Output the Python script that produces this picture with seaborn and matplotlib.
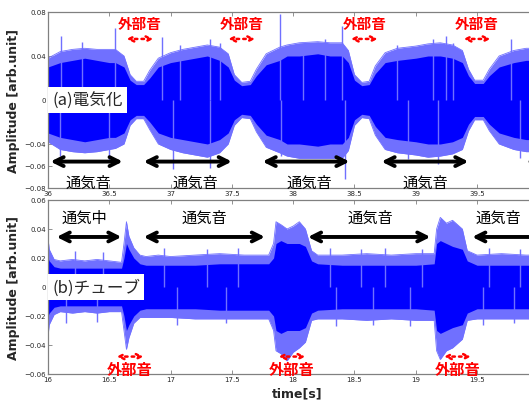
import matplotlib
matplotlib.use("Agg")
import matplotlib.pyplot as plt
import numpy as np
import pandas as pd
import seaborn as sns

# ---- panel (a) 電気化: envelope (time [s], amplitude) ----
t_a = [36.00, 36.10, 36.20, 36.30, 36.40, 36.50, 36.55, 36.62, 36.67, 36.72,
       36.78, 36.83, 36.90, 37.00, 37.10, 37.20, 37.30, 37.40, 37.47, 37.52,
       37.58, 37.65, 37.70, 37.78, 37.89, 37.95, 38.05, 38.20, 38.30, 38.40,
       38.45, 38.50, 38.56, 38.62, 38.67, 38.75, 38.85, 39.00, 39.10, 39.20,
       39.30, 39.38, 39.43, 39.48, 39.55, 39.60, 39.68, 39.80, 39.90, 40.00]
core_a = [0.030, 0.034, 0.036, 0.038, 0.036, 0.034, 0.034, 0.030, 0.018, 0.014,
          0.014, 0.020, 0.030, 0.034, 0.036, 0.038, 0.040, 0.036, 0.030, 0.018,
          0.013, 0.014, 0.022, 0.032, 0.036, 0.040, 0.040, 0.042, 0.040, 0.040,
          0.034, 0.018, 0.013, 0.014, 0.024, 0.034, 0.036, 0.038, 0.040, 0.040,
          0.038, 0.034, 0.022, 0.015, 0.015, 0.022, 0.030, 0.034, 0.036, 0.036]
peak_hi_a = [0.038, 0.044, 0.046, 0.047, 0.046, 0.046, 0.046, 0.040, 0.023, 0.017,
             0.017, 0.027, 0.038, 0.043, 0.046, 0.048, 0.050, 0.048, 0.042, 0.023,
             0.016, 0.017, 0.028, 0.042, 0.048, 0.050, 0.052, 0.053, 0.052, 0.052,
             0.045, 0.023, 0.016, 0.017, 0.031, 0.043, 0.047, 0.049, 0.051, 0.052,
             0.050, 0.045, 0.028, 0.018, 0.018, 0.028, 0.040, 0.045, 0.047, 0.047]
peak_lo_a = [0.038, 0.045, 0.047, 0.048, 0.047, 0.045, 0.044, 0.040, 0.023, 0.017,
             0.017, 0.027, 0.040, 0.045, 0.048, 0.050, 0.052, 0.048, 0.040, 0.023,
             0.016, 0.017, 0.029, 0.043, 0.048, 0.051, 0.053, 0.053, 0.053, 0.053,
             0.046, 0.023, 0.016, 0.017, 0.032, 0.045, 0.048, 0.050, 0.052, 0.051,
             0.049, 0.045, 0.028, 0.018, 0.018, 0.028, 0.040, 0.045, 0.047, 0.047]
# tallest single spikes in (a)
spike_t_a = [36.11, 36.28, 36.55, 36.93, 37.08, 37.32, 37.40, 37.89, 38.08,
             38.26, 38.40, 38.85, 39.14, 39.25, 39.30, 39.78]
spike_hi_a = [0.058, 0.053, 0.065, 0.057, 0.050, 0.055, 0.052, 0.078, 0.050,
              0.055, 0.067, 0.050, 0.055, 0.058, 0.052, 0.055]
spike_lt_a = [36.10, 36.50, 37.02, 37.32, 37.90, 38.42, 38.94, 39.18, 39.85]
spike_lo_a = [0.051, 0.056, 0.063, 0.062, 0.051, 0.072, 0.054, 0.058, 0.053]

# ---- panel (b) チューブ ----
t_b = [16.00, 16.01, 16.05, 16.10, 16.20, 16.30, 16.40, 16.50, 16.60, 16.62,
       16.64, 16.66, 16.70, 16.75, 16.80, 16.90, 17.00, 17.20, 17.40, 17.60,
       17.80, 17.84, 17.86, 17.90, 17.95, 18.00, 18.05, 18.10, 18.15, 18.20,
       18.40, 18.60, 18.80, 19.00, 19.15, 19.17, 19.20, 19.25, 19.30, 19.38,
       19.42, 19.50, 19.70, 19.90, 20.00]
core_b = [0.020, 0.018, 0.014, 0.013, 0.013, 0.013, 0.013, 0.013, 0.013, 0.020,
          0.030, 0.026, 0.020, 0.016, 0.015, 0.015, 0.015, 0.015, 0.016, 0.016,
          0.016, 0.020, 0.030, 0.032, 0.030, 0.030, 0.030, 0.028, 0.018, 0.016,
          0.015, 0.015, 0.015, 0.015, 0.016, 0.030, 0.032, 0.030, 0.028, 0.026,
          0.018, 0.015, 0.015, 0.015, 0.015]
peak_hi_b = [0.034, 0.026, 0.019, 0.018, 0.019, 0.018, 0.019, 0.018, 0.017, 0.030,
             0.045, 0.035, 0.027, 0.022, 0.021, 0.022, 0.021, 0.022, 0.023, 0.022,
             0.022, 0.030, 0.045, 0.043, 0.040, 0.042, 0.045, 0.040, 0.025, 0.022,
             0.022, 0.023, 0.022, 0.023, 0.023, 0.040, 0.048, 0.044, 0.046, 0.040,
             0.025, 0.022, 0.023, 0.022, 0.022]
peak_lo_b = [0.034, 0.026, 0.019, 0.017, 0.018, 0.017, 0.018, 0.017, 0.017, 0.030,
             0.043, 0.035, 0.025, 0.021, 0.021, 0.021, 0.021, 0.022, 0.022, 0.022,
             0.022, 0.030, 0.044, 0.046, 0.051, 0.045, 0.042, 0.038, 0.023, 0.022,
             0.022, 0.023, 0.022, 0.023, 0.023, 0.044, 0.050, 0.044, 0.042, 0.036,
             0.023, 0.022, 0.022, 0.022, 0.022]
spike_t_b = [16.22, 16.45, 16.95, 17.30, 17.55, 18.30, 18.55, 18.75, 19.05, 19.60, 19.85]
spike_hi_b = [0.025, 0.024, 0.027, 0.026, 0.027, 0.027, 0.026, 0.027, 0.026, 0.027, 0.026]
spike_lt_b = [16.15, 16.40, 17.05, 17.45, 18.35, 18.65, 18.95, 19.55, 19.80]
spike_lo_b = [0.025, 0.024, 0.026, 0.025, 0.027, 0.026, 0.027, 0.026, 0.025]

# annotations
ext_a = [36.75, 37.58, 38.58, 39.50]
air_a_text = [36.33, 37.20, 38.13, 39.08]
air_a_arrows = [(36.02, 36.61), (36.78, 37.50), (37.75, 38.46), (38.72, 39.43), (39.90, 40.3)]
ext_b = [16.67, 17.99, 19.34]
air_b_text = [(16.30, '通気中'), (17.28, '通気音'), (18.63, '通気音'), (19.67, '通気音')]
air_b_arrows = [(16.07, 16.60), (16.78, 17.77), (18.12, 19.12), (19.46, 20.3)]

sns.set_style("white")
plt.rcParams['font.family'] = ['Noto Sans CJK JP', 'DejaVu Sans']

BLUE = '#0000ff'
LIGHT = '#7070ff'
GRAY = '#808080'

fig = plt.figure(figsize=(5.29, 4.02), dpi=100)
ax1 = fig.add_axes([0.0907, 0.5299, 0.927, 0.4378])
ax2 = fig.add_axes([0.0907, 0.0672, 0.927, 0.4328])


def draw_wave(ax, t, core, phi, plo, st, sh, slt, sl):
    df = pd.DataFrame({'t': t, 'hi': phi, 'lo': [-v for v in plo]})
    ax.fill_between(t, [-v for v in plo], phi, color=LIGHT, lw=0)
    ax.vlines(st, 0, sh, color=LIGHT, lw=1.0)
    ax.vlines(slt, [-v for v in sl], 0, color=LIGHT, lw=1.0)
    ax.fill_between(t, [-v for v in core], core, color=BLUE, lw=0)
    sns.lineplot(data=df, x='t', y='hi', ax=ax, color=LIGHT, lw=0.6)
    sns.lineplot(data=df, x='t', y='lo', ax=ax, color=LIGHT, lw=0.6)


def style_axes(ax, xlim, ylim, yticks, ylabels, xticks):
    ax.set_xlim(*xlim)
    ax.set_ylim(*ylim)
    ax.set_yticks(yticks)
    ax.set_yticklabels(ylabels, family='DejaVu Sans', fontsize=5)
    ax.set_xticks(xticks)
    ax.set_xticklabels([('%g' % v) for v in xticks], family='DejaVu Sans', fontsize=5)
    ax.tick_params(direction='in', length=3, width=0.6, color=GRAY, pad=1.5,
                   top=True, right=True, bottom=True, left=True)
    for s in ax.spines.values():
        s.set_color(GRAY)
        s.set_linewidth(0.9)
    ax.set_xlabel('')
    ax.set_ylabel('Amplitude [arb.unit]', fontsize=9, weight='bold', labelpad=3,
                  family='DejaVu Sans')


def black_arrow(ax, x0, x1, y):
    ax.annotate('', xy=(x0, y), xytext=(x1, y),
                arrowprops=dict(arrowstyle='<->', lw=2.8, color='black',
                                mutation_scale=16, shrinkA=0, shrinkB=0))


def red_arrow(ax, xc, y):
    ax.annotate('', xy=(xc - 0.11, y), xytext=(xc + 0.11, y),
                arrowprops=dict(arrowstyle='<->', lw=1.8, color='red', ls=':',
                                mutation_scale=9, shrinkA=0, shrinkB=0))


# panel (a)
draw_wave(ax1, t_a, core_a, peak_hi_a, peak_lo_a, spike_t_a, spike_hi_a, spike_lt_a, spike_lo_a)
style_axes(ax1, (36, 40), (-0.08, 0.08), [0.08, 0.04, 0, -0.04, -0.06, -0.08],
           ['0.08', '0.04', '0', '\u22120.04', '\u22120.06', '\u22120.08'],
           [36, 36.5, 37, 37.5, 38, 38.5, 39, 39.5])
for x in ext_a:
    ax1.text(x, 0.070, '外部音', color='red', fontsize=10.5, weight='bold',
             ha='center', va='center')
    red_arrow(ax1, x, 0.0555)
for x0, x1 in air_a_arrows:
    black_arrow(ax1, x0, x1, -0.056)
for x in air_a_text:
    ax1.text(x, -0.0745, '通気音', color='black', fontsize=11, ha='center', va='center')
ax1.text(36.035, 0.0, '(a)電気化', fontsize=12, ha='left', va='center',
         bbox=dict(boxstyle='square,pad=0.25', fc='white', ec='none'))

# panel (b)
draw_wave(ax2, t_b, core_b, peak_hi_b, peak_lo_b, spike_t_b, spike_hi_b, spike_lt_b, spike_lo_b)
style_axes(ax2, (16, 20), (-0.06, 0.06), [0.06, 0.04, 0.02, 0, -0.02, -0.04, -0.06],
           ['0.06', '0.04', '0.02', '0', '\u22120.02', '\u22120.04', '\u22120.06'],
           [16, 16.5, 17, 17.5, 18, 18.5, 19, 19.5])
for x in ext_b:
    ax2.text(x, -0.0565, '外部音', color='red', fontsize=11, weight='bold',
             ha='center', va='center', clip_on=False)
    red_arrow(ax2, x, -0.048)
for x0, x1 in air_b_arrows:
    black_arrow(ax2, x0, x1, 0.0345)
for x, s in air_b_text:
    ax2.text(x, 0.048, s, color='black', fontsize=11, ha='center', va='center')
ax2.text(16.035, 0.0, '(b)チューブ', fontsize=12, ha='left', va='center',
         bbox=dict(boxstyle='square,pad=0.25', fc='white', ec='none'))
fig.text(0.562, 0.012, 'time[s]', fontsize=9, weight='bold', ha='center',
         family='DejaVu Sans')

fig.savefig('out.png', dpi=100)
